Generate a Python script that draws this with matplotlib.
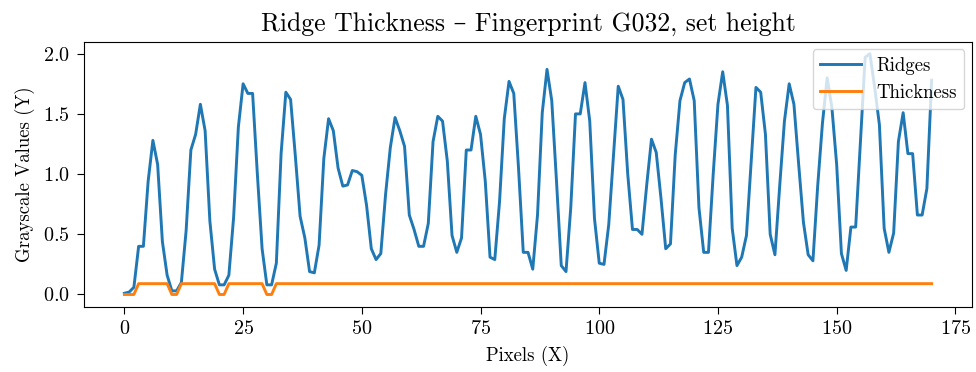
import matplotlib
matplotlib.use("Agg")
import matplotlib.pyplot as plt
import numpy as np

plt.rcParams["font.family"] = ["cmr10", "DejaVu Serif"]
plt.rcParams["axes.formatter.use_mathtext"] = True
plt.rcParams["mathtext.fontset"] = "cm"

# grayscale profile sampled along one scan line of the print
ridges = [
    0.01, 0.02, 0.06, 0.40, 0.40, 0.94, 1.28, 1.08, 0.44, 0.16,
    0.03, 0.03, 0.10, 0.53, 1.20, 1.33, 1.58, 1.36, 0.61, 0.21,
    0.08, 0.08, 0.16, 0.64, 1.39, 1.75, 1.67, 1.67, 1.00, 0.38,
    0.08, 0.08, 0.26, 1.17, 1.68, 1.62, 1.15, 0.65, 0.47, 0.19,
    0.18, 0.41, 1.13, 1.46, 1.36, 1.05, 0.90, 0.91, 1.03, 1.02,
    0.99, 0.74, 0.38, 0.29, 0.34, 0.83, 1.22, 1.47, 1.36, 1.23,
    0.66, 0.54, 0.40, 0.40, 0.59, 1.27, 1.48, 1.44, 1.11, 0.49,
    0.35, 0.47, 1.20, 1.20, 1.48, 1.33, 0.94, 0.31, 0.29, 0.77,
    1.46, 1.77, 1.67, 1.05, 0.35, 0.35, 0.21, 0.66, 1.51, 1.87,
    1.61, 0.94, 0.24, 0.19, 0.72, 1.50, 1.50, 1.76, 1.44, 0.63,
    0.26, 0.25, 0.58, 1.16, 1.73, 1.62, 1.00, 0.54, 0.54, 0.50,
    0.91, 1.29, 1.18, 0.80, 0.38, 0.42, 1.16, 1.61, 1.76, 1.79,
    1.61, 0.72, 0.35, 0.35, 1.00, 1.58, 1.85, 1.57, 0.55, 0.24,
    0.31, 0.49, 1.11, 1.72, 1.68, 1.33, 0.50, 0.33, 0.90, 1.44,
    1.75, 1.58, 1.08, 0.60, 0.33, 0.28, 0.90, 1.42, 1.80, 1.55,
    1.08, 0.34, 0.20, 0.56, 0.56, 1.27, 1.97, 2.00, 1.72, 1.41,
    0.55, 0.35, 0.51, 1.27, 1.51, 1.17, 1.17, 0.66, 0.66, 0.88,
    1.78,
]

# ridge thickness marker: zero where no ridge was detected
zero_positions = [0, 1, 2, 10, 11, 20, 21, 30, 31]
thickness_level = 0.09

pixels = np.arange(len(ridges))
thickness = np.full(len(ridges), thickness_level)
thickness[zero_positions] = 0.0

fig = plt.figure(figsize=(9.76, 3.72), dpi=100)
ax = fig.add_axes([0.0861, 0.176, 0.9098, 0.712])

ax.plot(pixels, ridges, color="#1f77b4", linewidth=2.1, label="Ridges")
ax.plot(pixels, thickness, color="#ff7f0e", linewidth=2.1, label="Thickness")

ax.set_xticks([0, 25, 50, 75, 100, 125, 150, 175])
ax.set_yticks([0.0, 0.5, 1.0, 1.5, 2.0])
ax.tick_params(labelsize=14.5, length=5, pad=5)

ax.set_title("Ridge Thickness \u2013 Fingerprint G032, set height",
             fontsize=18.5, pad=8)
ax.set_xlabel("Pixels (X)", fontsize=13.5, labelpad=5)
ax.set_ylabel("Grayscale Values (Y)", fontsize=13.5, labelpad=6)
ax.legend(loc="upper right", fontsize=13.5, handlelength=2.2,
          borderaxespad=0.4)

fig.savefig("out.png", dpi=100)
